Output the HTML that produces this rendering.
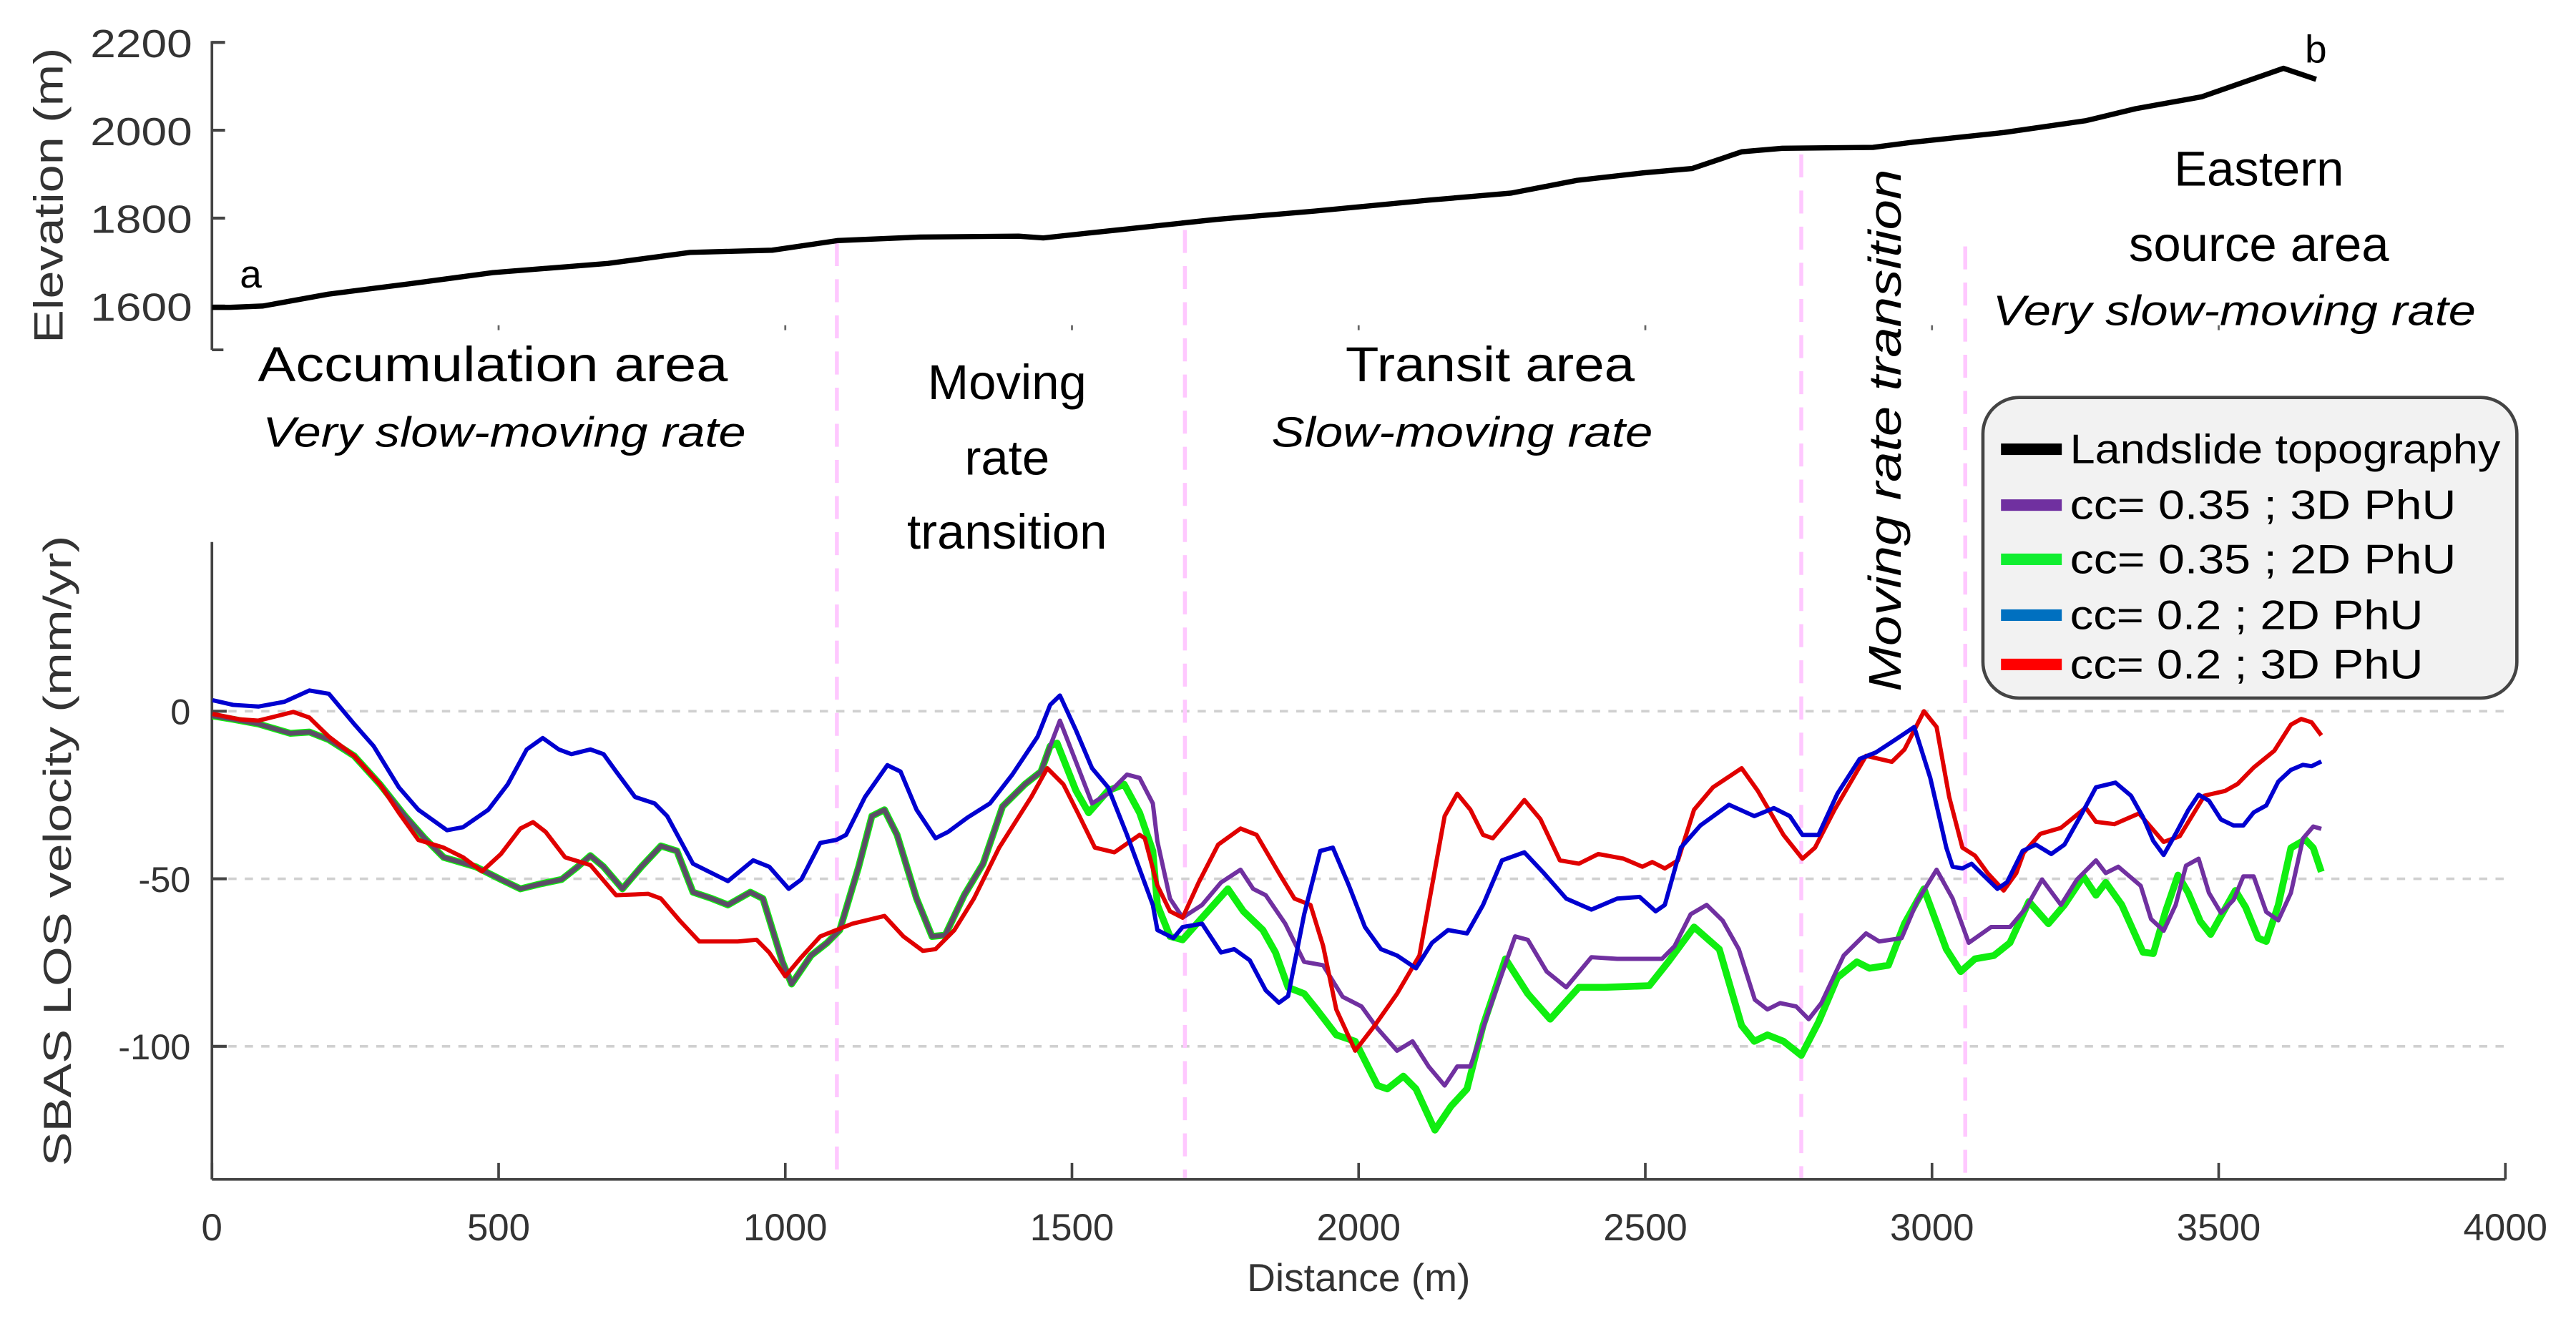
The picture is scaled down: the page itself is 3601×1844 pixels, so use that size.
<!DOCTYPE html>
<html><head><meta charset="utf-8"><style>
html,body{margin:0;padding:0;background:#fff;}
svg{display:block;}
text{font-family:"Liberation Sans",sans-serif;}
</style></head><body>
<svg id="chart" width="3601" height="1844" viewBox="0 0 1568 803" preserveAspectRatio="none" xmlns="http://www.w3.org/2000/svg">
<rect x="0" y="0" width="1568" height="803" fill="#fff"/>
<g id="grid"></g>
<g id="zones"></g>
<g id="axes"></g>
<g id="series"></g>

<text x="146" y="175" font-size="24">a</text>
<text x="1403" y="38" font-size="24">b</text>

<text x="300" y="232" font-size="30" text-anchor="middle" textLength="286" lengthAdjust="spacingAndGlyphs">Accumulation area</text>
<text x="307" y="272" font-size="26" font-style="italic" text-anchor="middle" textLength="294" lengthAdjust="spacingAndGlyphs">Very slow-moving rate</text>
<text font-size="30" text-anchor="middle"><tspan x="613" y="243">Moving</tspan><tspan x="613" y="289">rate</tspan><tspan x="613" y="334">transition</tspan></text>
<text x="907" y="232" font-size="30" text-anchor="middle" textLength="176" lengthAdjust="spacingAndGlyphs">Transit area</text>
<text x="890" y="272" font-size="26" font-style="italic" text-anchor="middle" textLength="232" lengthAdjust="spacingAndGlyphs">Slow-moving rate</text>
<text font-size="30" text-anchor="middle"><tspan x="1375" y="113">Eastern</tspan><tspan x="1375" y="159">source area</tspan></text>
<text x="1360" y="198" font-size="26" font-style="italic" text-anchor="middle" textLength="294" lengthAdjust="spacingAndGlyphs">Very slow-moving rate</text>
<text transform="translate(1157,262) rotate(-90)" font-size="28" font-style="italic" text-anchor="middle" textLength="318" lengthAdjust="spacingAndGlyphs">Moving rate transition</text>

<text transform="translate(38,119) rotate(-90)" font-size="25" fill="#333" text-anchor="middle" textLength="180" lengthAdjust="spacingAndGlyphs">Elevation (m)</text>
<text transform="translate(43,518) rotate(-90)" font-size="24" fill="#333" text-anchor="middle" textLength="384" lengthAdjust="spacingAndGlyphs">SBAS LOS velocity (mm/yr)</text>
<text x="827" y="786" font-size="24" fill="#333" text-anchor="middle">Distance (m)</text>

<g>
<rect x="1207" y="242" width="325" height="183" rx="22" ry="22" fill="#f2f2f2" stroke="#444" stroke-width="2"/>
<g><rect x="1218" y="270" width="37" height="7" fill="#000"/><text x="1260" y="282" font-size="25" textLength="262" lengthAdjust="spacingAndGlyphs">Landslide topography</text></g>
<g><rect x="1218" y="304" width="37" height="7" fill="#7030a0"/><text x="1260" y="316" font-size="25" textLength="235" lengthAdjust="spacingAndGlyphs">cc= 0.35 ; 3D PhU</text></g>
<g><rect x="1218" y="337" width="37" height="7" fill="#10ee30"/><text x="1260" y="349" font-size="25" textLength="235" lengthAdjust="spacingAndGlyphs">cc= 0.35 ; 2D PhU</text></g>
<g><rect x="1218" y="371" width="37" height="7" fill="#0070c0"/><text x="1260" y="383" font-size="25" textLength="215" lengthAdjust="spacingAndGlyphs">cc= 0.2 ; 2D PhU</text></g>
<g><rect x="1218" y="401" width="37" height="7" fill="#ff0000"/><text x="1260" y="413" font-size="25" textLength="215" lengthAdjust="spacingAndGlyphs">cc= 0.2 ; 3D PhU</text></g>
</g>
</svg>
<script>
// ---- data ----
var xTicks = [0, 500, 1000, 1500, 2000, 2500, 3000, 3500, 4000];
var vTicks = [0, -50, -100];
var eTicks = [1600, 1800, 2000, 2200];
var zoneBounds = [1090, 1697, 2772, 3058];

var elevD = [0,32,89,203,347,490,691,834,977,1092,1235,1407,1450,1579,1751,1923,2123,2266,2381,2496,2582,2668,2739,2897,2968,3126,3269,3355,3470,3613,3670];
var elevE = [1597,1597,1600,1627,1651,1676,1697,1722,1727,1749,1757,1759,1755,1773,1797,1816,1841,1857,1886,1903,1913,1951,1959,1961,1973,1995,2022,2049,2076,2141,2116];

var sharedD = [1,37,81,137,170,204,248,293,337,371,404,460,504,538,571,610,638,660,683,716,749,783,811,839,872,900,939,961,995,1011,1045,1073,1095,1128,1151,1173,1195,1229,1256,1279,1312,1345,1379,1418,1446,1462];
var sharedV = [-1.4,-2.4,-3.8,-6.6,-6.2,-8.5,-13.3,-21.8,-31.3,-37.9,-43.6,-46.4,-50.2,-53,-51.6,-50.2,-46.4,-43.1,-46.4,-53,-46.4,-40.2,-41.7,-54,-55.9,-57.8,-54,-55.9,-74.8,-81.4,-72.9,-69.1,-65.3,-46.4,-31.3,-29.4,-36.9,-55.9,-67.2,-66.8,-54.9,-45.5,-28.4,-21.8,-18,-10.4];

var greenRestD = [1474,1507,1529,1563,1591,1618,1641,1649,1671,1693,1727,1772,1799,1833,1855,1877,1905,1927,1961,1994,2033,2050,2078,2100,2133,2161,2189,2217,2256,2295,2334,2384,2429,2507,2540,2585,2629,2668,2690,2713,2741,2772,2802,2835,2869,2891,2924,2952,2986,3025,3050,3075,3108,3136,3169,3203,3231,3264,3286,3303,3331,3368,3386,3407,3429,3447,3468,3486,3508,3529,3547,3569,3583,3604,3626,3651,3665,3679];
var greenRestV = [-9.5,-23.7,-30.3,-23.7,-21.8,-30.3,-41.7,-57.8,-67.2,-68.2,-61.6,-53,-59.7,-65.3,-72,-82.4,-84.3,-89,-96.6,-98.5,-111.7,-112.7,-108.9,-112.7,-125,-117.9,-112.7,-93.8,-73.9,-84.3,-91.9,-82.4,-82.4,-81.9,-74.8,-64.4,-71,-93.8,-98.5,-96.6,-98.5,-102.7,-92.8,-79.5,-74.8,-76.7,-75.8,-63.4,-53,-71,-77.7,-73.9,-72.9,-69.1,-56.8,-63.4,-57.8,-49.3,-54.9,-51.1,-57.8,-71.9,-72.3,-59.9,-48.9,-54.2,-62.7,-66.6,-59.9,-53.5,-58.5,-67.7,-68.7,-57.8,-40.8,-38.3,-40.8,-47.9];

var purpleRestD = [1479,1507,1535,1563,1596,1618,1641,1649,1671,1693,1727,1760,1794,1816,1838,1872,1905,1938,1972,2005,2033,2067,2094,2122,2150,2172,2195,2228,2273,2295,2328,2362,2406,2451,2495,2529,2551,2579,2607,2635,2663,2691,2713,2735,2763,2785,2807,2846,2885,2908,2947,2974,3008,3036,3064,3103,3136,3164,3192,3225,3253,3286,3303,3325,3364,3382,3404,3425,3443,3465,3483,3504,3526,3543,3561,3583,3604,3626,3647,3665,3679];
var purpleRestV = [-2.8,-15.1,-27.5,-24.6,-18.9,-19.9,-27.5,-38.8,-55.9,-61.6,-57.8,-51.1,-47.3,-53,-54.9,-63.4,-74.8,-75.8,-85.2,-88.1,-94.7,-101.3,-98.5,-106,-111.7,-106,-106,-88.9,-67.2,-68.2,-77.7,-82.4,-73.4,-73.9,-73.9,-73.9,-70.1,-60.6,-57.8,-62.5,-71,-86.1,-89,-87.1,-88.1,-91.9,-87.1,-72.9,-66.3,-68.7,-67.7,-56.8,-47.3,-55.9,-69.1,-64.4,-64.4,-58.7,-50.2,-57.8,-50.2,-44.5,-48.3,-46.4,-52.1,-62,-65.5,-57.8,-46.1,-44,-54.2,-60.2,-56.3,-49.3,-49.3,-59.9,-62.4,-54.2,-38,-34.4,-35.1];

var blueD = [1,37,81,126,170,204,248,282,326,360,410,438,482,516,549,577,605,627,660,683,705,738,772,794,839,900,944,972,1006,1028,1061,1089,1106,1139,1178,1201,1229,1262,1284,1318,1357,1396,1440,1462,1479,1507,1535,1563,1596,1641,1649,1677,1693,1727,1760,1783,1810,1838,1861,1877,1905,1933,1955,1983,2011,2039,2067,2100,2128,2156,2189,2217,2250,2289,2323,2362,2406,2451,2490,2518,2534,2562,2596,2646,2690,2724,2752,2774,2802,2835,2874,2902,2936,2969,2997,3025,3036,3053,3069,3114,3131,3158,3181,3208,3231,3259,3286,3320,3347,3368,3386,3404,3425,3447,3465,3483,3504,3526,3543,3561,3583,3604,3626,3647,3662,3679];
var blueV = [3.3,1.9,1.4,2.8,6.2,5.2,-3.8,-10.4,-22.7,-29.4,-35.5,-34.6,-29.4,-21.8,-11.4,-8,-11.4,-12.8,-11.4,-12.8,-18,-25.6,-27.5,-31.3,-45.5,-50.7,-44.5,-46.4,-53,-50.2,-39.3,-38.4,-36.9,-25.6,-16.1,-18,-29.4,-37.9,-36,-31.7,-27.5,-18.9,-7.6,1.9,4.7,-5.7,-17,-22.7,-36.9,-57.8,-65.3,-67.7,-64.4,-63.4,-72,-71,-74.3,-83.3,-87,-85,-60.6,-41.7,-40.7,-52,-64.4,-71,-72.9,-76.7,-69.1,-65.3,-66.3,-57.8,-44.5,-42.1,-48.3,-55.9,-59.2,-55.9,-55.4,-59.7,-57.8,-40.7,-34.1,-27.9,-31.3,-28.9,-31.3,-36.9,-36.9,-24.6,-14.2,-12.3,-8.5,-4.7,-19.9,-40.7,-46.4,-46.9,-45.5,-53,-51,-41.7,-39.8,-42.6,-39.8,-31.3,-22.7,-21.3,-25.2,-31.6,-38.7,-42.9,-36.6,-29.5,-24.9,-26.7,-32.3,-34.1,-34.1,-30.2,-28.1,-21,-17.5,-16,-16.4,-15];

var redD = [1,48,81,142,170,204,248,293,326,360,404,438,471,504,538,560,582,616,660,705,761,783,816,850,917,950,972,1000,1028,1061,1117,1173,1206,1240,1262,1295,1329,1373,1429,1457,1485,1513,1540,1574,1618,1627,1649,1671,1693,1721,1755,1794,1822,1861,1888,1916,1938,1961,1994,2028,2067,2106,2150,2172,2195,2217,2234,2262,2289,2317,2351,2384,2418,2462,2495,2512,2534,2557,2585,2618,2668,2696,2741,2774,2796,2830,2885,2930,2952,2986,3008,3030,3053,3075,3097,3125,3147,3160,3189,3225,3268,3286,3318,3361,3404,3432,3475,3511,3533,3561,3597,3626,3644,3662,3679];
var redV = [-0.8,-2.4,-2.8,-0.2,-1.9,-7.6,-13.3,-21.8,-30.3,-38.4,-40.7,-43.6,-47.8,-42.6,-35,-33.1,-36,-43.6,-45.9,-54.9,-54.5,-55.9,-62.5,-68.7,-68.7,-68.2,-72,-79.1,-73.4,-67.2,-63.4,-61.1,-67.2,-71.5,-71,-65.3,-55.9,-40.7,-25.6,-17,-21.8,-31.3,-40.7,-42.1,-36.9,-37.9,-52,-59.7,-61.6,-51.1,-39.8,-35,-36.9,-48.3,-55.9,-57.8,-70,-89,-101.3,-93.8,-84.3,-72.9,-31.3,-24.6,-29.4,-36.9,-37.9,-32.2,-26.5,-32.2,-44.5,-45.5,-42.6,-44,-46.4,-45,-46.9,-44.5,-29.4,-22.7,-17,-23.7,-36.9,-44,-40.7,-29.4,-13.3,-15.1,-11.4,0,-4.7,-25.6,-40.7,-43.1,-48.3,-53.5,-48.3,-42.2,-36.6,-34.8,-28.8,-33,-33.7,-30.5,-39,-37.3,-25.2,-23.8,-21.7,-16.8,-11.8,-4,-2.3,-3.3,-7.2];

// ---- scales ----
var X0 = 129, PXM = 1396 / 4000;
function xs(d) { return X0 + d * PXM; }
function vy(v) { return 433 - v * 2.04; }
function ey(e) { return 186.3 - (e - 1600) * 0.2675; }

var NS = "http://www.w3.org/2000/svg";
function mk(tag, attrs, parent) {
  var el = document.createElementNS(NS, tag);
  for (var k in attrs) el.setAttribute(k, attrs[k]);
  parent.appendChild(el);
  return el;
}
function pts(D, V, fy) {
  var n = Math.min(D.length, V.length), s = [];
  for (var i = 0; i < n; i++) s.push(xs(D[i]).toFixed(2) + "," + fy(V[i]).toFixed(2));
  return s.join(" ");
}

// gridlines
var grid = document.getElementById("grid");
vTicks.forEach(function (v) {
  var g = mk("line", {x1: X0, x2: 1525, y1: vy(v), y2: vy(v), stroke: "#d0d0d0", "stroke-width": 1.6, "stroke-dasharray": "5,5"}, grid);
  
  
});

// zone dividers
var zones = document.getElementById("zones");
var zoneTop = [148, 140, 94, 150];
zoneBounds.forEach(function (d, i) {
  var l = mk("line", {x1: xs(d), x2: xs(d), y1: zoneTop[i], y2: 718, stroke: "#ffc8ff", "stroke-width": 2.4, "stroke-dasharray": "14,8"}, zones);
  
  
});

// axes
var axes = document.getElementById("axes");
var a1 = mk("line", {x1: X0, x2: X0, y1: 330, y2: 718, stroke: "#444", "stroke-width": 1.6}, axes);


var a2 = mk("line", {x1: X0, x2: 1525, y1: 718, y2: 718, stroke: "#444", "stroke-width": 1.6}, axes);


var a3 = mk("line", {x1: X0, x2: X0, y1: 25, y2: 213, stroke: "#444", "stroke-width": 1.6}, axes);


var a4 = mk("line", {x1: X0, x2: 136, y1: 213, y2: 213, stroke: "#444", "stroke-width": 1.6}, axes);



xTicks.forEach(function (t) {
  var tk = mk("line", {x1: xs(t), x2: xs(t), y1: 718, y2: 708, stroke: "#444", "stroke-width": 1.6}, axes);
  
  
  var lb = mk("text", {x: xs(t), y: 755, "font-size": 23, fill: "#333", "text-anchor": "middle"}, axes);
  lb.textContent = t;
  
  
  if (t > 0 && t < 4000) {
    var dot = mk("line", {x1: xs(t), x2: xs(t), y1: 198, y2: 201, stroke: "#666", "stroke-width": 1.2}, axes);
    
    
  }
});
vTicks.forEach(function (v) {
  var tk = mk("line", {x1: X0, x2: X0 + 9, y1: vy(v), y2: vy(v), stroke: "#444", "stroke-width": 1.8}, axes);
  
  
  var lb = mk("text", {x: 116, y: vy(v) + 8, "font-size": 22, fill: "#333", "text-anchor": "end"}, axes);
  lb.textContent = v;
  
  
});
eTicks.forEach(function (e) {
  var tk = mk("line", {x1: X0, x2: X0 + 8, y1: ey(e), y2: ey(e), stroke: "#444", "stroke-width": 1.8}, axes);
  
  
  var lb = mk("text", {x: 117, y: ey(e) + 9, "font-size": 24, fill: "#333", "text-anchor": "end", textLength: 62, lengthAdjust: "spacingAndGlyphs"}, axes);
  lb.textContent = e;
  
  
});

// series
var series = document.getElementById("series");
var topo = mk("polyline", {points: pts(elevD, elevE, ey), fill: "none", stroke: "#000", "stroke-width": 3.2, "stroke-linejoin": "round"}, series);



var greenD = sharedD.concat(greenRestD), greenV = sharedV.concat(greenRestV);
var purpleD = sharedD.concat(purpleRestD), purpleV = sharedV.concat(purpleRestV);

var gl = mk("polyline", {points: pts(greenD, greenV, vy), fill: "none", stroke: "#10ee10", "stroke-width": 4.2, "stroke-linejoin": "round"}, series);


var pl = mk("polyline", {points: pts(purpleD, purpleV, vy), fill: "none", stroke: "#7030a0", "stroke-width": 2.6, "stroke-linejoin": "round"}, series);


var sh = mk("polyline", {points: pts(sharedD, sharedV, vy), fill: "none", stroke: "#555", "stroke-width": 3, "stroke-linejoin": "round", "stroke-opacity": 0.75}, series);


var rl = mk("polyline", {points: pts(redD, redV, vy), fill: "none", stroke: "#e00000", "stroke-width": 2.6, "stroke-linejoin": "round"}, series);


var bl = mk("polyline", {points: pts(blueD, blueV, vy), fill: "none", stroke: "#0000d0", "stroke-width": 2.6, "stroke-linejoin": "round"}, series);


</script>
</body></html>
